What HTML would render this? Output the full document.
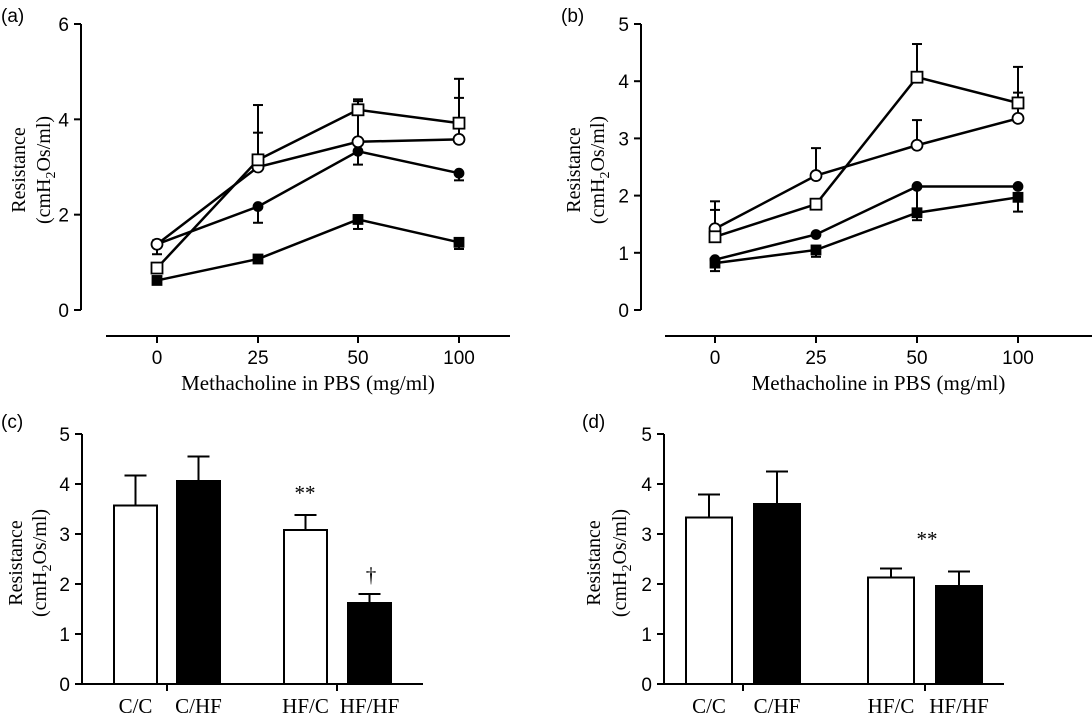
<!DOCTYPE html>
<html><head><meta charset="utf-8"><style>
body{margin:0;background:#fff}
svg{display:block}
.tk{font-family:"Liberation Sans",sans-serif;font-size:19px}
.sf{font-family:"Liberation Serif",serif;font-size:21px}
.yt{font-family:"Liberation Serif",serif;font-size:20px}
</style></head><body>
<svg id="s" width="1092" height="719" xmlns="http://www.w3.org/2000/svg"></svg>
<script>
// ---- data ----
const doses = ["0","25","50","100"];
// panel a
const aOpenSq = [0.88, 3.15, 4.2, 3.92];
const aOpenSqErr = [0, 1.15, 0.22, 0.93];
const aOpenCi = [1.38, 3.0, 3.53, 3.58];
const aOpenCiErr = [0.08, 0.72, 0.85, 0.87];
const aFillCi = [1.38, 2.17, 3.33, 2.87];
const aFillCiErr = [-0.21, -0.34, -0.28, -0.15];
const aFillSq = [0.62, 1.07, 1.9, 1.42];
const aFillSqErr = [0, -0.05, -0.2, -0.14];
// panel b
const bOpenSq = [1.28, 1.85, 4.07, 3.62];
const bOpenSqErr = [0.47, 0, 0.58, 0.63];
const bOpenCi = [1.42, 2.35, 2.88, 3.35];
const bOpenCiErr = [0.48, 0.48, 0.44, 0.45];
const bFillCi = [0.88, 1.32, 2.16, 2.16];
const bFillCiErr = [0, 0, -0.4, 0];
const bFillSq = [0.82, 1.05, 1.7, 1.97];
const bFillSqErr = [-0.14, -0.12, -0.13, -0.25];
// bars
const groups = ["C/C","C/HF","HF/C","HF/HF"];
const cVals = [3.57, 4.06, 3.08, 1.62];
const cErr = [0.6, 0.49, 0.3, 0.18];
const dVals = [3.33, 3.6, 2.13, 1.96];
const dErr = [0.46, 0.65, 0.18, 0.29];
const ticksA = [0,2,4,6];
const ticks5 = [0,1,2,3,4,5];

const S=document.getElementById('s');
const NS='http://www.w3.org/2000/svg';
function mk(t,a,txt){const e=document.createElementNS(NS,t);for(const k in a)e.setAttribute(k,a[k]);if(txt!==undefined)e.textContent=txt;S.appendChild(e);return e;}
function line(x1,y1,x2,y2,w,name){const e=mk('line',{x1,y1,x2,y2,stroke:'#000','stroke-width':w||2});

return e;}
function txt(x,y,s,cls,anchor,name,extra){const e=mk('text',Object.assign({x,y,class:cls,'text-anchor':anchor||'middle'},extra||{}),s);

return e;}
function ytitle(cx1,cx2,cy){
 txt(cx1,cy,'Resistance','yt','middle','y-axis-title',{transform:`rotate(-90 ${cx1} ${cy})`,dy:'7'});
 const t=txt(cx2,cy,'','yt','middle','y-axis-title-units',{transform:`rotate(-90 ${cx2} ${cy})`,dy:'7'});
 t.innerHTML='(cmH<tspan dy="5" font-size="14">2</tspan><tspan dy="-5">Os/ml)</tspan>';
}
function yaxis(x,y0,y1,ticks,max){
 line(x,y1,x,y0,2,'y-axis');
 ticks.forEach(v=>{const y=y0-(y0-y1)*v/max;line(x-7,y,x,y,2,'y-tick');txt(x-12,y+7,String(v),'tk','end','y-tick-label');});
}
function linePanel(o){
 const X=i=>o.xs[i], Y=v=>o.y0-(o.y0-o.y1)*v/o.max;
 yaxis(o.ax,o.y0,o.y1,o.ticks,o.max);
 line(o.xl,336,o.xr,336,2,'x-axis');
 doses.forEach((d,i)=>{line(X(i),336,X(i),343,2,'x-tick');txt(X(i),364,d,'tk','middle','x-tick-label');});
 txt((o.xl+o.xr)/2,390,'Methacholine in PBS (mg/ml)','sf','middle','x-axis-title');
 txt(o.lx,22,o.label,'tk','start','panel-label');
 o.series.forEach(s=>{
  s.err.forEach((e,i)=>{if(!e)return;const y=Y(s.v[i]),ye=Y(s.v[i]+e);line(X(i),y,X(i),ye,2,'error-bar');line(X(i)-5,ye,X(i)+5,ye,2,'error-cap');});
 });
 o.series.forEach(s=>{
  const p=mk('polyline',{points:s.v.map((v,i)=>X(i)+','+Y(v)).join(' '),fill:'none',stroke:'#000','stroke-width':2.5});
  
  
 });
 o.series.forEach(s=>{
  s.v.forEach((v,i)=>{let m;const fill=s.filled?'#000':'#fff';
   if(s.sq){const r=s.filled?4.5:5.5;m=mk('rect',{x:X(i)-r,y:Y(v)-r,width:2*r,height:2*r,fill,stroke:'#000','stroke-width':1.8});}
   else{m=mk('circle',{cx:X(i),cy:Y(v),r:s.filled?4.5:5.5,fill,stroke:'#000','stroke-width':1.8});}
   
   
  });
 });
}
linePanel({ax:81,y0:310,y1:24,max:6,ticks:ticksA,xl:106,xr:510,xs:[157,258,358,459],lx:1,label:'(a)',
 series:[{name:'filled-square',v:aFillSq,err:aFillSqErr,sq:1,filled:1},{name:'filled-circle',v:aFillCi,err:aFillCiErr,filled:1},
 {name:'open-circle',v:aOpenCi,err:aOpenCiErr},{name:'open-square',v:aOpenSq,err:aOpenSqErr,sq:1}]});
ytitle(18,43,170);
linePanel({ax:641,y0:310,y1:24,max:5,ticks:ticks5,xl:665,xr:1092,xs:[715,816,917,1018],lx:561,label:'(b)',
 series:[{name:'filled-square',v:bFillSq,err:bFillSqErr,sq:1,filled:1},{name:'filled-circle',v:bFillCi,err:bFillCiErr,filled:1},
 {name:'open-circle',v:bOpenCi,err:bOpenCiErr},{name:'open-square',v:bOpenSq,err:bOpenSqErr,sq:1}]});
ytitle(573,597,170);

function barPanel(o){
 const Y=v=>o.y0-(o.y0-o.y1)*v/5;
 txt(o.lx,428,o.label,'tk','start','panel-label');
 o.vals.forEach((v,i)=>{const x=o.bx[i],w=o.bw,cx=x+w/2;
  const ye=Y(v+o.err[i]);line(cx,Y(v),cx,ye,2,'error-bar');line(cx-11,ye,cx+11,ye,2,'error-cap');
  const r=mk('rect',{x,y:Y(v),width:w,height:o.y0-Y(v),fill:i%2?'#000':'#fff',stroke:'#000','stroke-width':2});
  
  
  txt(cx,713,groups[i],'sf','middle','x-tick-label');
 });
 yaxis(o.ax,o.y0,o.y1,ticks5,5);
 line(o.ax,o.y0,o.xr,o.y0,2,'x-axis');
 o.gt.forEach(x=>line(x,o.y0,x,o.y0+7,2,'group-tick'));
 o.notes.forEach(n=>txt(n[0],n[1],n[2],'sf','middle','significance-mark'));
}
barPanel({ax:82,y0:684,y1:434,xr:423,bx:[114,177,284,348],bw:43,gt:[167,337],lx:1,label:'(c)',vals:cVals,err:cErr,
 notes:[[305,500,'**'],[371,582,'†']]});
ytitle(15,39,563);
barPanel({ax:664,y0:684,y1:434,xr:1004,bx:[686,754,868,936],bw:46,gt:[743,925],lx:582,label:'(d)',vals:dVals,err:dErr,
 notes:[[927,546,'**']]});
ytitle(593,619,563);
</script>
</body></html>
